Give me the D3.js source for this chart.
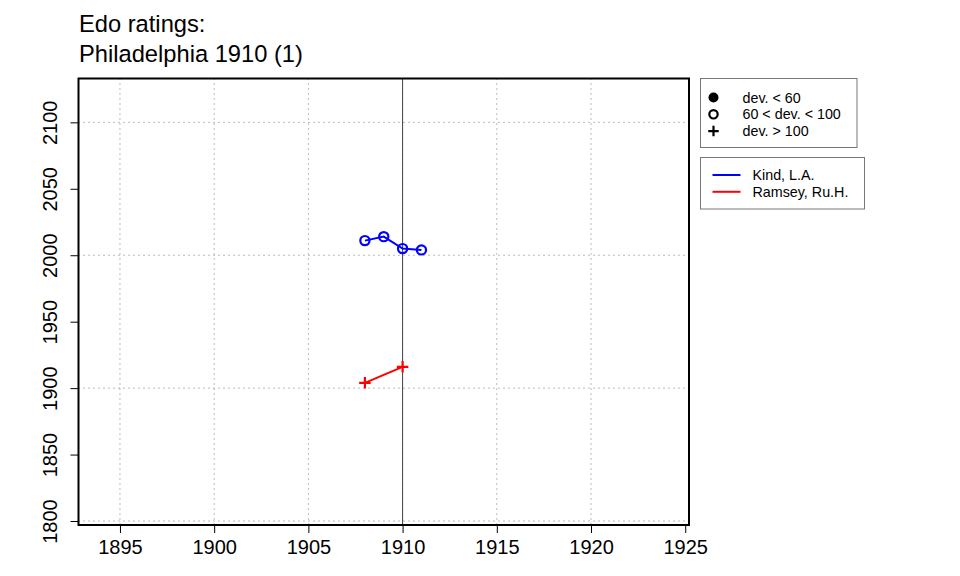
<!DOCTYPE html>
<html>
<head>
<meta charset="utf-8">
<script src="https://cdn.jsdelivr.net/npm/d3@7"></script>
<style>
  body { margin: 0; background: #fff; }
  text { font-family: "Liberation Sans", Arial, sans-serif; }
</style>
</head>
<body>
<div id="chart"></div>
<script>
// ---------- data ----------
const titleLines = ['Edo ratings:', 'Philadelphia 1910 (1)'];

const kindYears = [1908, 1909, 1910, 1911];
const kindRatings = [2011, 2014, 2005, 2004];

const ramseyYears = [1908, 1910];
const ramseyRatings = [1904, 1916];

const players = ['Kind, L.A.', 'Ramsey, Ru.H.'];
const playerColors = ['#0000ff', '#ff0000'];
const playerSymbols = ['circle', 'plus']; // per series, from deviation class

const devLabels = ['dev. < 60', '60 < dev. < 100', 'dev. > 100'];
const devSymbols = ['dot', 'circle', 'plus'];

const xTicks = [1895, 1900, 1905, 1910, 1915, 1920, 1925];
const xGrid = [1895, 1900, 1905, 1910, 1915, 1920];
const yTicks = [1800, 1850, 1900, 1950, 2000, 2050, 2100];
const yGrid = [1800, 1900, 2000, 2100];
const eventYear = 1910;

// ---------- structure ----------
const width = 960, height = 576;
const margin = {top: 78.5, right: 271, bottom: 51, left: 78.5};

const svg = d3.select('#chart').append('svg')
  .attr('width', width)
  .attr('height', height);

const x = d3.scaleLinear()
  .domain([1892.8, 1925.2])
  .range([margin.left, width - margin.right]);

const y = d3.scaleLinear()
  .domain([1797, 2133])
  .range([height - margin.bottom, margin.top]);

// title
svg.append('g').selectAll('text')
  .data(titleLines)
  .enter().append('text')
  .attr('x', 79)
  .attr('y', (d, i) => 31.5 + i * 30.5)
  .attr('font-size', 23.7)
  .text(d => d);

// grid
const grid = svg.append('g').attr('stroke', '#777').attr('stroke-width', 1).attr('stroke-dasharray', '1,4');
grid.selectAll('.vg').data(xGrid).enter().append('line')
  .attr('x1', d => x(d)).attr('x2', d => x(d))
  .attr('y1', y.range()[1]).attr('y2', y.range()[0]);
grid.selectAll('.hg').data(yGrid).enter().append('line')
  .attr('x1', x.range()[0]).attr('x2', x.range()[1])
  .attr('y1', d => y(d)).attr('y2', d => y(d));

// event line
svg.append('line')
  .attr('x1', x(eventYear)).attr('x2', x(eventYear))
  .attr('y1', y.range()[1]).attr('y2', y.range()[0])
  .attr('stroke', '#444').attr('stroke-width', 1);

// axes
const xAxis = svg.append('g')
  .attr('transform', `translate(0,${y.range()[0]})`)
  .call(d3.axisBottom(x).tickValues(xTicks).tickFormat(d3.format('d')).tickSize(8).tickPadding(7));
xAxis.select('.domain').remove();
xAxis.selectAll('text').attr('font-size', 20).attr('fill', '#000').attr('font-family', '"Liberation Sans", Arial, sans-serif');
xAxis.selectAll('line').attr('stroke', '#000');

const yAxis = svg.append('g')
  .attr('transform', `translate(${x.range()[0]},0)`)
  .call(d3.axisLeft(y).tickValues(yTicks).tickFormat(d3.format('d')).tickSize(8));
yAxis.select('.domain').remove();
yAxis.selectAll('line').attr('stroke', '#000');
yAxis.selectAll('text')
  .attr('font-size', 20).attr('fill', '#000')
  .attr('font-family', '"Liberation Sans", Arial, sans-serif')
  .attr('text-anchor', 'middle')
  .attr('dy', null)
  .attr('x', null)
  .attr('transform', 'translate(-21.5,0) rotate(-90)');

// box
svg.append('rect')
  .attr('x', x.range()[0]).attr('y', y.range()[1])
  .attr('width', x.range()[1] - x.range()[0])
  .attr('height', y.range()[0] - y.range()[1])
  .attr('fill', 'none').attr('stroke', '#000').attr('stroke-width', 2);

// symbols
function drawSymbol(g, type, cx, cy, color, s) {
  if (type === 'dot') {
    g.append('circle').attr('cx', cx).attr('cy', cy).attr('r', s + 0.8).attr('fill', color);
  } else if (type === 'circle') {
    g.append('circle').attr('cx', cx).attr('cy', cy).attr('r', s)
      .attr('fill', 'none').attr('stroke', color).attr('stroke-width', 2.2);
  } else {
    g.append('path')
      .attr('d', `M${cx - s * 1.25},${cy}H${cx + s * 1.25}M${cx},${cy - s * 1.25}V${cy + s * 1.25}`)
      .attr('stroke', color).attr('stroke-width', 2.2).attr('fill', 'none');
  }
}

// series
const series = [
  {years: kindYears, ratings: kindRatings},
  {years: ramseyYears, ratings: ramseyRatings}
];
const line = d3.line().x(d => x(d[0])).y(d => y(d[1]));

series.forEach((s, i) => {
  const pts = s.years.map((yr, j) => [yr, s.ratings[j]]);
  const g = svg.append('g');
  g.append('path')
    .attr('d', line(pts))
    .attr('fill', 'none')
    .attr('stroke', playerColors[i])
    .attr('stroke-width', 2);
  pts.forEach(p => drawSymbol(g, playerSymbols[i], x(p[0]), y(p[1]), playerColors[i], 4.6));
});

// legend 1: deviation classes
const leg1 = svg.append('g');
leg1.append('rect')
  .attr('x', 700.5).attr('y', 78.5).attr('width', 156.5).attr('height', 69)
  .attr('fill', '#fff').attr('stroke', '#777').attr('stroke-width', 1);
devLabels.forEach((lab, i) => {
  const cy = 97.5 + i * 16.8;
  drawSymbol(leg1, devSymbols[i], 713.5, cy, '#000', 4.2);
  leg1.append('text').attr('x', 742.5).attr('y', cy + 5).attr('font-size', 14.3).text(lab);
});

// legend 2: players
const leg2 = svg.append('g');
leg2.append('rect')
  .attr('x', 700.5).attr('y', 157.5).attr('width', 164).attr('height', 51.5)
  .attr('fill', '#fff').attr('stroke', '#777').attr('stroke-width', 1);
players.forEach((p, i) => {
  const cy = 175 + i * 16.8;
  leg2.append('line').attr('x1', 712.5).attr('x2', 740.5).attr('y1', cy).attr('y2', cy)
    .attr('stroke', playerColors[i]).attr('stroke-width', 2);
  leg2.append('text').attr('x', 752.5).attr('y', cy + 5).attr('font-size', 14.3).text(p);
});
</script>
</body>
</html>
